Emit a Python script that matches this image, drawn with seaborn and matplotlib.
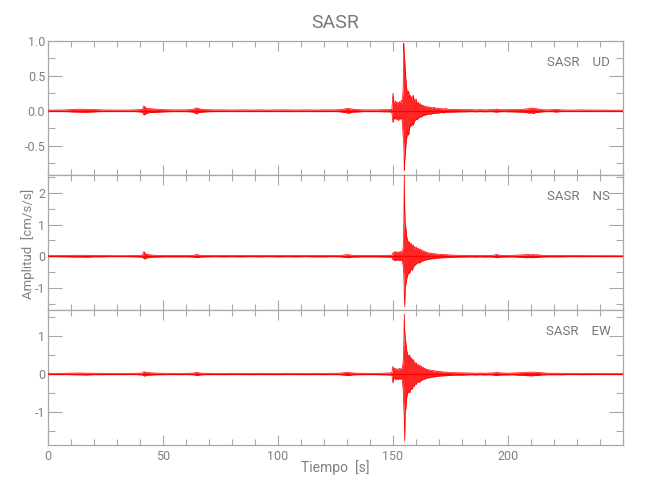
import matplotlib
matplotlib.use("Agg")
import matplotlib.pyplot as plt
import matplotlib.ticker as mticker
import seaborn as sns
import pandas as pd

# ---------------- data (min/max of the trace per time bin) ----------------
T = [
    0, 4, 8, 11, 14, 17, 20, 23, 27, 31,
    35, 38, 41, 41.7, 42.2, 42.7, 43.5, 44.5, 46, 48,
    51, 54, 57, 60, 63, 64.5, 65.2, 66, 67, 69,
    72, 76, 80, 84, 88, 92, 96, 100, 104, 108,
    112, 116, 120, 124, 127, 129, 130, 131, 132, 134,
    137, 140, 143, 146, 148,
    149.5, 150.0, 150.4, 150.8, 151.2, 151.6, 152.0, 152.4, 152.8, 153.2,
    153.6, 154.0, 154.4, 154.7, 154.9, 155.1, 155.3, 155.6, 156.0, 156.4,
    156.8, 157.2, 157.6, 158.0, 158.4, 158.8, 159.2, 159.6, 160.0, 160.5,
    161.0, 161.5, 162.0, 162.5, 163.0, 163.5, 164.0, 164.5, 165.0, 165.7,
    166.4, 167.1, 167.8, 168.5, 169.2, 170.0, 171, 172, 173, 174,
    175.5, 177, 178.5, 180,
    182, 184, 186, 188, 190, 192, 194, 195, 196, 198,
    200, 202, 204, 206, 208, 209, 210, 211, 212, 213,
    214, 215, 217, 219, 221, 223, 226, 229, 232, 235,
    238, 241, 244, 247, 250,
]

UD_hi = [
    0.008, 0.01, 0.012, 0.02, 0.022, 0.02, 0.018, 0.012, 0.01, 0.01,
    0.01, 0.012, 0.02, 0.07, 0.05, 0.04, 0.03, 0.03, 0.025, 0.02,
    0.015, 0.012, 0.012, 0.012, 0.02, 0.04, 0.035, 0.025, 0.02, 0.015,
    0.012, 0.012, 0.01, 0.012, 0.01, 0.012, 0.01, 0.012, 0.012, 0.01,
    0.012, 0.01, 0.012, 0.012, 0.015, 0.025, 0.035, 0.03, 0.025, 0.018,
    0.012, 0.012, 0.012, 0.015, 0.015,
    0.02, 0.25, 0.12, 0.1, 0.14, 0.08, 0.12, 0.1, 0.13, 0.09,
    0.15, 0.12, 0.3, 0.96, 0.8, 0.72, 0.6, 0.45, 0.3, 0.25,
    0.28, 0.18, 0.22, 0.16, 0.2, 0.22, 0.15, 0.12, 0.17, 0.1,
    0.12, 0.09, 0.1, 0.07, 0.08, 0.06, 0.07, 0.05, 0.06, 0.05,
    0.045, 0.04, 0.05, 0.035, 0.04, 0.03, 0.03, 0.025, 0.03, 0.02,
    0.02, 0.02, 0.018, 0.015,
    0.015, 0.015, 0.012, 0.015, 0.012, 0.015, 0.015, 0.025, 0.015, 0.015,
    0.015, 0.018, 0.015, 0.02, 0.025, 0.03, 0.04, 0.035, 0.03, 0.025,
    0.02, 0.015, 0.012, 0.015, 0.02, 0.012, 0.01, 0.01, 0.012, 0.01,
    0.01, 0.01, 0.008, 0.008, 0.008,
]
UD_lo = [
    -0.008, -0.01, -0.012, -0.018, -0.02, -0.022, -0.016, -0.012, -0.01, -0.01,
    -0.01, -0.012, -0.02, -0.06, -0.055, -0.04, -0.03, -0.025, -0.025, -0.02,
    -0.015, -0.012, -0.012, -0.012, -0.018, -0.045, -0.03, -0.025, -0.02, -0.015,
    -0.012, -0.01, -0.012, -0.01, -0.012, -0.01, -0.012, -0.01, -0.012, -0.012,
    -0.01, -0.012, -0.012, -0.01, -0.015, -0.025, -0.03, -0.035, -0.022, -0.018,
    -0.012, -0.012, -0.012, -0.015, -0.015,
    -0.02, -0.17, -0.1, -0.12, -0.09, -0.13, -0.1, -0.14, -0.1, -0.12,
    -0.1, -0.15, -0.35, -0.5, -0.85, -0.7, -0.66, -0.5, -0.38, -0.3,
    -0.35, -0.25, -0.2, -0.22, -0.18, -0.21, -0.16, -0.14, -0.12, -0.13,
    -0.1, -0.1, -0.08, -0.09, -0.07, -0.06, -0.065, -0.05, -0.055, -0.045,
    -0.05, -0.04, -0.04, -0.035, -0.035, -0.03, -0.025, -0.03, -0.02, -0.02,
    -0.02, -0.018, -0.015, -0.015,
    -0.015, -0.012, -0.015, -0.012, -0.015, -0.012, -0.015, -0.02, -0.015, -0.012,
    -0.015, -0.015, -0.018, -0.02, -0.025, -0.035, -0.03, -0.04, -0.025, -0.025,
    -0.018, -0.015, -0.012, -0.012, -0.018, -0.012, -0.01, -0.01, -0.01, -0.01,
    -0.01, -0.008, -0.008, -0.008, -0.008,
]

NS_hi = [
    0.015, 0.015, 0.02, 0.025, 0.03, 0.025, 0.025, 0.02, 0.015, 0.015,
    0.015, 0.02, 0.03, 0.15, 0.1, 0.07, 0.05, 0.04, 0.03, 0.025,
    0.02, 0.02, 0.02, 0.02, 0.025, 0.05, 0.04, 0.03, 0.025, 0.02,
    0.02, 0.015, 0.02, 0.015, 0.02, 0.015, 0.02, 0.015, 0.02, 0.015,
    0.02, 0.015, 0.02, 0.02, 0.02, 0.04, 0.05, 0.04, 0.03, 0.025,
    0.02, 0.02, 0.02, 0.025, 0.03,
    0.03, 0.1, 0.14, 0.1, 0.15, 0.12, 0.1, 0.14, 0.11, 0.15,
    0.12, 0.16, 0.25, 1.0, 2.6, 1.5, 1.0, 0.9, 0.6, 0.5,
    0.4, 0.45, 0.35, 0.4, 0.3, 0.35, 0.28, 0.25, 0.3, 0.22,
    0.25, 0.2, 0.22, 0.15, 0.18, 0.14, 0.15, 0.1, 0.12, 0.09,
    0.1, 0.08, 0.08, 0.07, 0.07, 0.06, 0.06, 0.05, 0.05, 0.04,
    0.035, 0.03, 0.03, 0.025,
    0.025, 0.025, 0.02, 0.025, 0.02, 0.025, 0.03, 0.06, 0.03, 0.025,
    0.02, 0.025, 0.035, 0.04, 0.045, 0.05, 0.045, 0.05, 0.04, 0.045,
    0.035, 0.025, 0.02, 0.02, 0.02, 0.018, 0.015, 0.018, 0.015, 0.015,
    0.015, 0.012, 0.015, 0.012, 0.012,
]
NS_lo = [
    -0.015, -0.015, -0.02, -0.025, -0.025, -0.03, -0.02, -0.02, -0.015, -0.015,
    -0.015, -0.02, -0.03, -0.08, -0.09, -0.06, -0.05, -0.035, -0.03, -0.025,
    -0.02, -0.02, -0.02, -0.02, -0.025, -0.045, -0.04, -0.03, -0.025, -0.02,
    -0.015, -0.02, -0.015, -0.02, -0.015, -0.02, -0.015, -0.02, -0.015, -0.02,
    -0.015, -0.02, -0.02, -0.015, -0.02, -0.035, -0.045, -0.05, -0.03, -0.025,
    -0.02, -0.02, -0.02, -0.025, -0.03,
    -0.03, -0.12, -0.1, -0.15, -0.11, -0.14, -0.12, -0.1, -0.15, -0.12,
    -0.14, -0.13, -0.3, -0.6, -1.2, -1.6, -1.0, -0.9, -0.7, -0.6,
    -0.5, -0.55, -0.45, -0.4, -0.45, -0.35, -0.3, -0.28, -0.25, -0.22,
    -0.2, -0.22, -0.18, -0.16, -0.15, -0.14, -0.12, -0.12, -0.1, -0.1,
    -0.09, -0.08, -0.08, -0.07, -0.06, -0.06, -0.05, -0.05, -0.045, -0.04,
    -0.035, -0.03, -0.03, -0.025,
    -0.025, -0.02, -0.025, -0.02, -0.025, -0.02, -0.03, -0.05, -0.035, -0.025,
    -0.025, -0.02, -0.03, -0.04, -0.05, -0.045, -0.05, -0.045, -0.045, -0.04,
    -0.03, -0.025, -0.02, -0.02, -0.018, -0.02, -0.015, -0.015, -0.018, -0.015,
    -0.012, -0.015, -0.012, -0.012, -0.012,
]

EW_hi = [
    0.012, 0.015, 0.018, 0.02, 0.025, 0.02, 0.02, 0.018, 0.015, 0.015,
    0.015, 0.018, 0.025, 0.06, 0.05, 0.04, 0.035, 0.03, 0.025, 0.02,
    0.018, 0.018, 0.015, 0.018, 0.02, 0.04, 0.035, 0.025, 0.02, 0.018,
    0.015, 0.015, 0.018, 0.015, 0.015, 0.018, 0.015, 0.015, 0.018, 0.015,
    0.015, 0.018, 0.015, 0.018, 0.02, 0.035, 0.045, 0.035, 0.03, 0.02,
    0.018, 0.018, 0.015, 0.02, 0.025,
    0.03, 0.2, 0.12, 0.15, 0.1, 0.14, 0.12, 0.1, 0.15, 0.12,
    0.14, 0.16, 0.3, 0.8, 1.57, 1.1, 1.0, 0.8, 0.6, 0.5,
    0.45, 0.5, 0.4, 0.42, 0.35, 0.38, 0.3, 0.28, 0.3, 0.22,
    0.25, 0.2, 0.22, 0.18, 0.18, 0.15, 0.14, 0.12, 0.12, 0.1,
    0.1, 0.09, 0.08, 0.08, 0.07, 0.06, 0.06, 0.05, 0.05, 0.04,
    0.035, 0.035, 0.03, 0.03,
    0.025, 0.025, 0.02, 0.025, 0.02, 0.025, 0.03, 0.05, 0.03, 0.025,
    0.02, 0.025, 0.03, 0.035, 0.04, 0.05, 0.045, 0.05, 0.045, 0.04,
    0.035, 0.03, 0.02, 0.02, 0.02, 0.018, 0.015, 0.018, 0.015, 0.015,
    0.015, 0.012, 0.015, 0.012, 0.012,
]
EW_lo = [
    -0.012, -0.015, -0.015, -0.02, -0.022, -0.025, -0.018, -0.018, -0.015, -0.015,
    -0.015, -0.015, -0.025, -0.05, -0.055, -0.035, -0.03, -0.03, -0.022, -0.02,
    -0.018, -0.015, -0.018, -0.015, -0.02, -0.035, -0.04, -0.025, -0.02, -0.018,
    -0.015, -0.018, -0.015, -0.015, -0.018, -0.015, -0.015, -0.018, -0.015, -0.015,
    -0.018, -0.015, -0.018, -0.015, -0.02, -0.03, -0.04, -0.045, -0.025, -0.02,
    -0.018, -0.015, -0.018, -0.02, -0.025,
    -0.03, -0.24, -0.1, -0.12, -0.15, -0.1, -0.14, -0.15, -0.1, -0.14,
    -0.12, -0.15, -0.4, -0.9, -1.2, -1.76, -0.97, -0.9, -0.6, -0.5,
    -0.45, -0.5, -0.42, -0.38, -0.4, -0.3, -0.32, -0.25, -0.28, -0.22,
    -0.2, -0.22, -0.18, -0.16, -0.15, -0.14, -0.12, -0.12, -0.1, -0.1,
    -0.09, -0.08, -0.075, -0.07, -0.065, -0.06, -0.05, -0.05, -0.045, -0.04,
    -0.035, -0.03, -0.03, -0.03,
    -0.025, -0.02, -0.025, -0.02, -0.025, -0.02, -0.03, -0.045, -0.03, -0.025,
    -0.025, -0.02, -0.03, -0.035, -0.045, -0.045, -0.05, -0.045, -0.04, -0.045,
    -0.03, -0.025, -0.02, -0.02, -0.018, -0.02, -0.015, -0.015, -0.018, -0.015,
    -0.012, -0.015, -0.012, -0.012, -0.012,
]

components = ["UD", "NS", "EW"]
station = "SASR"
xtick_values = [0, 50, 100, 150, 200]
ylims = {"UD": (-0.92, 1.0), "NS": (-1.71, 2.56), "EW": (-1.86, 1.67)}
ymajor = {"UD": 0.5, "NS": 1.0, "EW": 1.0}
yminor = {"UD": 0.25, "NS": 0.5, "EW": 0.5}
series = {"UD": (UD_hi, UD_lo), "NS": (NS_hi, NS_lo), "EW": (EW_hi, EW_lo)}

# ---------------- style ----------------
sns.set_style("white")
plt.rcParams["font.family"] = ["Roboto", "DejaVu Sans"]
GRAY_TXT = "#808080"
GRAY_AX = "#a8a8a8"
plt.rcParams.update({
    "axes.edgecolor": GRAY_AX,
    "xtick.color": GRAY_AX,
    "ytick.color": GRAY_AX,
    "xtick.labelcolor": GRAY_TXT,
    "ytick.labelcolor": GRAY_TXT,
    "text.color": GRAY_TXT,
})

fig = plt.figure(figsize=(6.5, 5.0), dpi=100)
left, right = 48 / 650, 623 / 650
top, bottom = 1 - 40.5 / 500, 1 - 445 / 500
h = (top - bottom) / 3

for i, comp in enumerate(components):
    ax = fig.add_axes([left, top - (i + 1) * h, right - left, h])
    hi, lo = series[comp]
    n = min(len(T), len(hi), len(lo))
    t = T[:n]
    df = pd.DataFrame({
        "t": t + t,
        "a": list(hi[:n]) + list(lo[:n]),
        "edge": ["max"] * n + ["min"] * n,
    })
    ax.axhline(0, color="#ff0000", lw=0.9, zorder=1)
    ax.fill_between(t, lo[:n], hi[:n], color="#ff0000", lw=0, alpha=0.85,
                    zorder=2)
    sns.lineplot(data=df, x="t", y="a", units="edge", estimator=None,
                 color="#ff0000", lw=0.5, ax=ax, legend=False, zorder=3)
    ax.set_xlim(0, 250)
    ax.set_ylim(*ylims[comp])
    ax.set_xlabel("")
    ax.set_ylabel("")
    ax.set_xticks(xtick_values)
    ax.xaxis.set_minor_locator(mticker.MultipleLocator(10))
    ax.yaxis.set_major_locator(mticker.MultipleLocator(ymajor[comp]))
    ax.yaxis.set_minor_locator(mticker.MultipleLocator(yminor[comp]))
    if comp == "UD":
        ax.yaxis.set_major_formatter(mticker.FormatStrFormatter("%.1f"))
    else:
        ax.yaxis.set_major_formatter(mticker.FormatStrFormatter("%d"))
    ax.tick_params(axis="both", which="both", direction="in",
                   top=True, right=True, bottom=True, left=True, width=0.8)
    ax.tick_params(axis="x", which="major", length=7)
    ax.tick_params(axis="x", which="minor", length=4)
    ax.tick_params(axis="y", which="major", length=10, pad=2)
    ax.tick_params(axis="y", which="minor", length=5)
    ax.tick_params(labelsize=9)
    if i < 2:
        ax.tick_params(axis="x", labelbottom=False)
    for s in ax.spines.values():
        s.set_color(GRAY_AX)
        s.set_linewidth(0.9)
    ax.text(0.978, 0.84, f"{station}    {comp}", transform=ax.transAxes,
            ha="right", va="center", fontsize=9.5, color="#777777")
    if i == 0:
        ax.set_title(station, fontsize=14, color="#7a7a7a", pad=9)

fig.text(0.516, 0.064, "Tiempo  [s]", ha="center", va="center", fontsize=10)
fig.text(0.043, 0.513, "Amplitud  [cm/s/s]", ha="center", va="center",
         rotation=90, fontsize=9.5)

fig.savefig("out.png", dpi=100)
